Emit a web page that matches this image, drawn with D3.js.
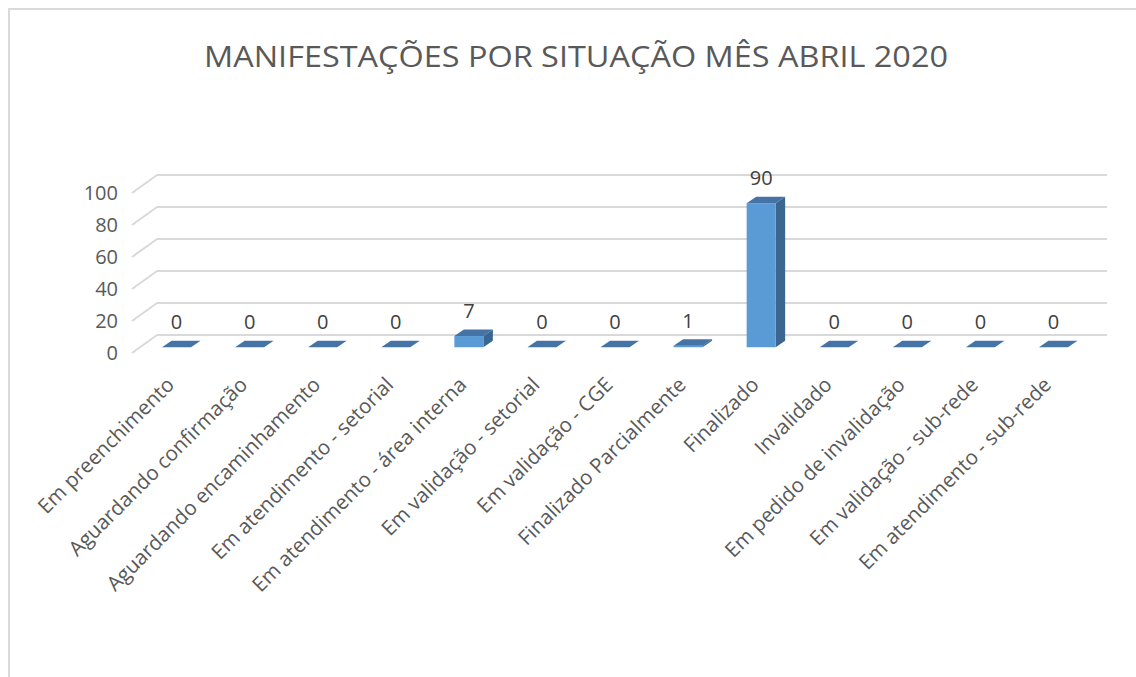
<!DOCTYPE html>
<html><head><meta charset="UTF-8">
<title>Manifestações por situação</title>
<script src="https://d3js.org/d3.v7.min.js"></script>
<style>
  body { margin: 0; background: #fff; }
  text { font-family: "Open Sans", "DejaVu Sans", sans-serif; }
</style>
</head>
<body>
<svg id="chart" width="1136" height="677"></svg>
<script>
// categorias (situação)
var categories = ["Em preenchimento", "Aguardando confirmação", "Aguardando encaminhamento",
  "Em atendimento - setorial", "Em atendimento - área interna", "Em validação - setorial",
  "Em validação - CGE", "Finalizado Parcialmente", "Finalizado", "Invalidado",
  "Em pedido de invalidação", "Em validação - sub-rede", "Em atendimento - sub-rede"];
// quantidade de manifestações
var values = [0, 0, 0, 0, 7, 0, 0, 1, 90, 0, 0, 0, 0];
var yTicks = [0, 20, 40, 60, 80, 100];
var title = "MANIFESTAÇÕES POR SITUAÇÃO MÊS ABRIL 2020";

var svg = d3.select("#chart");

// moldura
svg.append("rect").attr("x", 9).attr("y", 9).attr("width", 1140).attr("height", 680)
  .attr("fill", "none").attr("stroke", "#d9d9d9").attr("stroke-width", 2);

svg.append("text").attr("x", 576).attr("y", 67).attr("text-anchor", "middle")
  .attr("font-size", 29).attr("fill", "#595959")
  .attr("textLength", 744).attr("lengthAdjust", "spacingAndGlyphs")
  .text(title);

// profundidade do 3D
var depthX = 25, depthY = 18;
var y = d3.scaleLinear().domain([0, 100]).range([335, 175]); // parede do fundo
var x = d3.scaleBand().domain(categories).range([157, 1107]);

// grade: linha no fundo + diagonal na lateral
var grid = svg.append("g");
yTicks.forEach(function(t) {
  grid.append("line").attr("x1", x.range()[0]).attr("x2", x.range()[1])
    .attr("y1", y(t)).attr("y2", y(t))
    .attr("stroke", "#d9d9d9").attr("stroke-width", 2);
  grid.append("line").attr("x1", x.range()[0] - depthX).attr("y1", y(t) + depthY)
    .attr("x2", x.range()[0]).attr("y2", y(t))
    .attr("stroke", "#d9d9d9").attr("stroke-width", 2);
  svg.append("text").attr("x", 118).attr("y", y(t) + depthY + 7)
    .attr("text-anchor", "end").attr("font-size", 20).attr("fill", "#595959")
    .text(t);
});

// barras: face frontal a 1/3 da profundidade
var frontShift = depthX * 0.68, frontDrop = depthY * 0.68;
var bw = 29, bdx = 9.5, bdy = 6.5;
var bars = svg.append("g");
categories.forEach(function(c, i) {
  var cx = x(c) - frontShift + x.bandwidth() / 2;
  var x0 = cx - bw / 2, x1 = cx + bw / 2;
  var yb = y(0) + frontDrop, yt = y(values[i]) + frontDrop;
  if (values[i] > 0) {
    bars.append("path").attr("fill", "#3a6690")
      .attr("d", "M" + x1 + "," + yb + "L" + (x1 + bdx) + "," + (yb - bdy) +
        "L" + (x1 + bdx) + "," + (yt - bdy) + "L" + x1 + "," + yt + "Z");
    bars.append("rect").attr("x", x0).attr("y", yt).attr("width", bw).attr("height", yb - yt)
      .attr("fill", "#5b9bd5");
  }
  bars.append("path").attr("fill", "#4573a6")
    .attr("d", "M" + x0 + "," + yt + "L" + x1 + "," + yt + "L" + (x1 + bdx) + "," + (yt - bdy) +
      "L" + (x0 + bdx) + "," + (yt - bdy) + "Z");
  svg.append("text").attr("x", cx).attr("y", yt - 18).attr("text-anchor", "middle")
    .attr("font-size", 20).attr("fill", "#404040").text(values[i]);
  svg.append("text").attr("transform", "translate(" + (cx - 1) + ",386) rotate(-45)")
    .attr("text-anchor", "end").attr("font-size", 20.5).attr("fill", "#595959").text(c);
});
</script>
</body></html>
